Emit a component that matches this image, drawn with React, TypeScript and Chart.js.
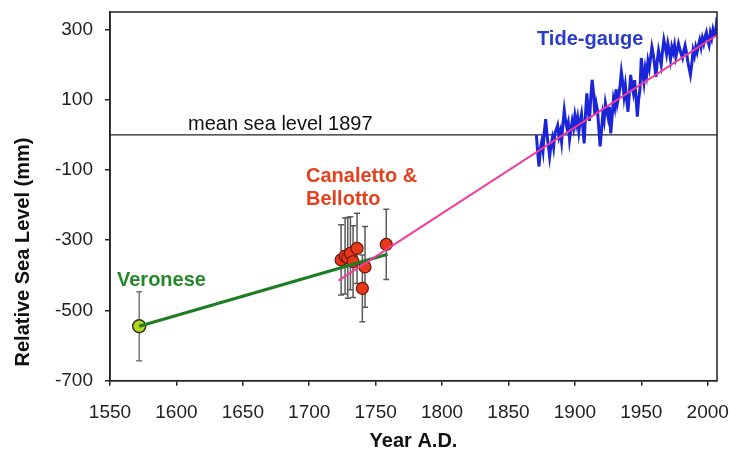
import React, { useEffect, useRef } from "react";
import { Chart, registerables } from "chart.js";

Chart.register(...registerables);

const FONT = "'Liberation Sans', Arial, Helvetica, sans-serif";

const xTicks = [1550, 1600, 1650, 1700, 1750, 1800, 1850, 1900, 1950, 2000];
const yTicks = [-700, -500, -300, -100, 100, 300];

const veroneseYears = [1572];
const veroneseLevels = [-545];
const veroneseErrors = [98];

const canalettoYears = [1724, 1727, 1729, 1731, 1733, 1736, 1740, 1742, 1758];
const canalettoLevels = [-356, -345, -350, -337, -361, -323, -437, -376, -312];
const canalettoErrors = [100, 108, 115, 104, 102, 100, 95, 115, 100];

const greenYears = [1572, 1759];
const greenLevels = [-545, -340];

const trendYears = [1722, 2007];
const trendLevels = [-415, 284];

const meanYears = [1550, 2007];
const meanLevels = [0, 0];

const tideStartYear = 1871;
const tideLevels = [
  0, -50, -90, -40, -20, -45, 10, 45, 0, -30,
  -62, -30, -10, -35, 5, 15, 27, -5, 10, -20,
  30, 70, 40, 20, 35, -13, 15, 40, 20, 55,
  30, 50, 10, 40, 60, 20, -24, 60, 118, 70,
  40, 110, 157, 120, 60, 90, 70, 20, -33, 10,
  60, 40, 90, 70, 50, 80, 4, 50, 100, 80,
  130, 90, 110, 140, 179, 150, 110, 140, 100, 66,
  120, 171, 140, 120, 156, 110, 52, 100, 130, 219,
  180, 150, 190, 170, 210, 190, 220, 250, 230, 200,
  165, 210, 240, 220, 200, 240, 270, 250, 230, 260,
  240, 215, 250, 235, 255, 222, 240, 260, 245, 230,
  219, 240, 255, 235, 210, 190, 171, 200, 240, 225,
  250, 235, 255, 270, 250, 275, 260, 280, 292, 270,
  256, 290, 275, 300, 285, 290, 335,
];

const pairs = (xs: number[], ys: number[]) => xs.map((x, i) => ({ x, y: ys[i] }));

const errorBarPlugin = {
  id: "errorBars",
  beforeDatasetsDraw(chart: any) {
    const { ctx } = chart;
    const xs = chart.scales.x;
    const ys = chart.scales.y;
    chart.data.datasets.forEach((ds: any) => {
      if (!ds.errors) return;
      ctx.save();
      ctx.strokeStyle = ds.errorColor;
      ctx.lineWidth = 1.5;
      ds.data.forEach((p: any, j: number) => {
        const px = xs.getPixelForValue(p.x);
        const top = ys.getPixelForValue(p.y + ds.errors[j]);
        const bot = ys.getPixelForValue(p.y - ds.errors[j]);
        ctx.beginPath();
        ctx.moveTo(px, top);
        ctx.lineTo(px, bot);
        ctx.moveTo(px - 3, top);
        ctx.lineTo(px + 3, top);
        ctx.moveTo(px - 3, bot);
        ctx.lineTo(px + 3, bot);
        ctx.stroke();
      });
      ctx.restore();
    });
  },
};

const annotationPlugin = {
  id: "annotations",
  afterDraw(chart: any) {
    const { ctx, chartArea } = chart;
    ctx.save();
    ctx.strokeStyle = "#222";
    ctx.lineWidth = 1.5;
    ctx.strokeRect(chartArea.left, chartArea.top, chartArea.right - chartArea.left, chartArea.bottom - chartArea.top);

    ctx.textBaseline = "middle";
    ctx.textAlign = "left";
    ctx.font = `bold 20px ${FONT}`;
    ctx.fillStyle = "#2a3cc8";
    ctx.fillText("Tide-gauge", 537, 39);
    ctx.fillStyle = "#e4401e";
    ctx.fillText("Canaletto &", 306, 176);
    ctx.fillText("Bellotto", 306, 199);
    ctx.fillStyle = "#24882a";
    ctx.fillText("Veronese", 117, 280);

    ctx.font = `20px ${FONT}`;
    ctx.fillStyle = "#111";
    ctx.fillText("mean sea level 1897", 188, 124);

    ctx.translate(23, 252);
    ctx.rotate(-Math.PI / 2);
    ctx.textAlign = "center";
    ctx.font = `bold 20px ${FONT}`;
    ctx.fillStyle = "#111";
    ctx.fillText("Relative Sea Level (mm)", 0, 0);
    ctx.restore();
  },
};

export default function App() {
  const ref = useRef<HTMLCanvasElement>(null);

  useEffect(() => {
    document.body.style.margin = "0";
    const canvas = ref.current;
    if (!canvas) return;
    const chart = new Chart(canvas, {
      type: "scatter",
      data: {
        datasets: [
          {
            label: "Trend",
            data: pairs(trendYears, trendLevels),
            showLine: true,
            borderColor: "#f03c9c",
            borderWidth: 2,
            pointRadius: 0,
            order: 0,
          } as any,
          {
            label: "Painting trend",
            data: pairs(greenYears, greenLevels),
            showLine: true,
            borderColor: "#1d7d22",
            borderWidth: 3.2,
            pointRadius: 0,
            order: 1,
          },
          {
            label: "Canaletto & Bellotto",
            data: pairs(canalettoYears, canalettoLevels),
            showLine: false,
            pointRadius: 6,
            pointBackgroundColor: "#e8381c",
            pointBorderColor: "#6a1808",
            pointBorderWidth: 1.2,
            errors: canalettoErrors,
            errorColor: "#5a5a5a",
            order: 2,
          },
          {
            label: "Veronese",
            data: pairs(veroneseYears, veroneseLevels),
            showLine: false,
            pointRadius: 6.5,
            pointBackgroundColor: "#b4d422",
            pointBorderColor: "#2a3010",
            pointBorderWidth: 1.4,
            errors: veroneseErrors,
            errorColor: "#777",
            order: 3,
          },
          {
            label: "Tide-gauge",
            data: tideLevels.map((v, i) => ({ x: tideStartYear + i, y: v })),
            showLine: true,
            borderColor: "#1a24d8",
            borderWidth: 3,
            pointRadius: 0,
            tension: 0,
            order: 4,
          },
          {
            label: "mean sea level 1897",
            data: pairs(meanYears, meanLevels),
            showLine: true,
            borderColor: "#222",
            borderWidth: 1.2,
            pointRadius: 0,
            order: 5,
          },
        ],
      },
      options: {
        animation: false,
        responsive: false,
        maintainAspectRatio: false,
        devicePixelRatio: 1,
        layout: { padding: { top: 12, right: 13, left: 0, bottom: 0 } },
        plugins: {
          legend: { display: false },
          tooltip: { enabled: false },
          title: { display: false },
        },
        scales: {
          x: {
            type: "linear",
            min: 1550,
            max: 2007,
            afterBuildTicks: (s: any) => {
              s.ticks = xTicks.map((v) => ({ value: v }));
            },
            afterFit: (s: any) => {
              s.height = 74.3;
              s.paddingLeft = 0;
              s.paddingRight = 0;
            },
            grid: { display: true, drawOnChartArea: false, drawTicks: true, tickLength: 5, color: "#222", lineWidth: 1.5 },
            border: { display: true, color: "#222", width: 1.5 },
            ticks: {
              font: { family: FONT, size: 19 },
              color: "#222",
              padding: 16,
              maxRotation: 0,
              autoSkip: false,
              callback: (v: any) => String(v),
            },
            title: {
              display: true,
              text: "Year A.D.",
              font: { family: FONT, size: 20, weight: "bold" },
              color: "#111",
              padding: { top: 0, bottom: 2 },
            },
          },
          y: {
            type: "linear",
            min: -700,
            max: 350,
            afterBuildTicks: (s: any) => {
              s.ticks = yTicks.map((v) => ({ value: v }));
            },
            afterFit: (s: any) => {
              s.width = 110;
              s.paddingTop = 0;
              s.paddingBottom = 0;
            },
            grid: { display: true, drawOnChartArea: false, drawTicks: true, tickLength: 5, color: "#222", lineWidth: 1.5 },
            border: { display: true, color: "#222", width: 1.5 },
            ticks: {
              font: { family: FONT, size: 19 },
              color: "#222",
              padding: 12,
              autoSkip: false,
              callback: (v: any) => String(v),
            },
          },
        },
      } as any,
      plugins: [errorBarPlugin, annotationPlugin],
    });
    return () => chart.destroy();
  }, []);

  return (
    <div style={{ width: 730, height: 455 }}>
      <canvas ref={ref} width={730} height={455} />
    </div>
  );
}
